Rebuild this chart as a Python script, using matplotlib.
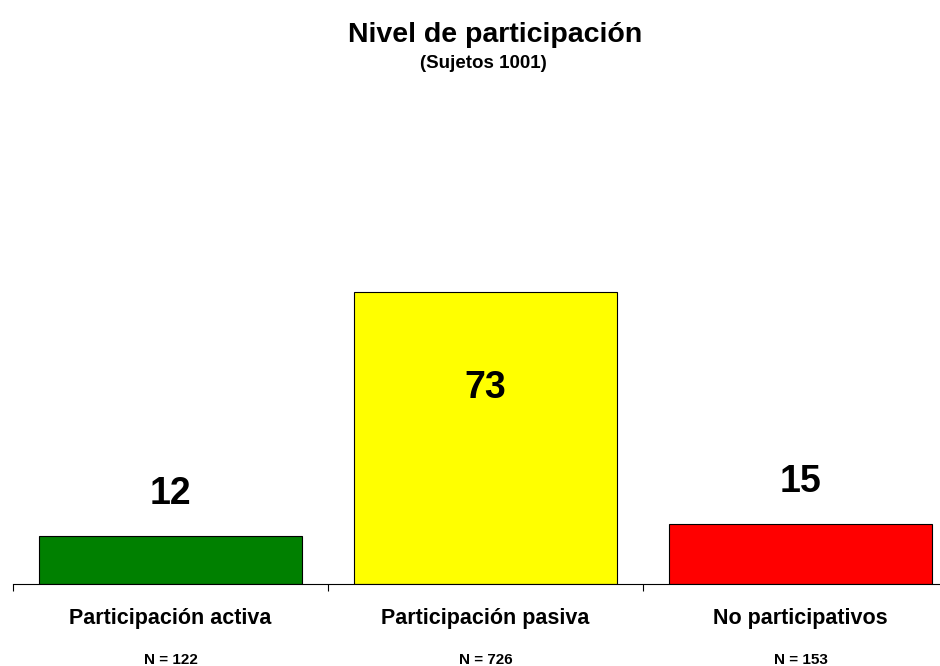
import matplotlib
matplotlib.use('Agg')
import matplotlib.pyplot as plt

plt.rcParams['font.family'] = ['Liberation Sans', 'DejaVu Sans']

# Data
categories = ['Participación activa', 'Participación pasiva', 'No participativos']
percentages = [12, 73, 15]
counts = [122, 726, 153]
colors = ['#008000', '#FFFF00', '#FF0000']

fig = plt.figure(figsize=(9.4, 6.66), dpi=100)
# axis runs past the right edge, like the original
ax = fig.add_axes([13 / 940, 1 - 584 / 666, 945 / 940, 400 / 666])

x = [i + 0.5 for i in range(len(categories))]
ax.bar(x, percentages, width=0.835, color=colors, edgecolor='black', linewidth=0.8)

ax.set_xlim(0, 3)
ax.set_ylim(0, 100)

# value labels: above small bars, inside the tall one
for xi, v in zip(x, percentages):
    y = v - 24 if v > 50 else v + 10.6
    ax.text(xi, y, str(v), ha='center', va='center', fontsize=27, fontweight='bold')

# category names and N below the axis
for xi, cat, n in zip(x, categories, counts):
    ax.text(xi, -8.7, cat, ha='center', va='center', fontsize=15.5, fontweight='bold')
    ax.text(xi, -19.1, f'N = {n}', ha='center', va='center', fontsize=11, fontweight='bold')

for s in ['top', 'right', 'left']:
    ax.spines[s].set_visible(False)
ax.spines['bottom'].set_linewidth(0.8)
ax.set_xticks([0, 1, 2, 3])
ax.set_xticklabels([])
ax.tick_params(axis='x', direction='out', length=5, width=0.8)
ax.set_yticks([])

fig.text(495 / 940, 1 - 35 / 666, 'Nivel de participación', ha='center', va='center',
         fontsize=20.5, fontweight='bold')
fig.text(483 / 940, 1 - 64 / 666, '(Sujetos 1001)', ha='center', va='center',
         fontsize=13.5, fontweight='bold')

fig.savefig('out.png', dpi=100)
